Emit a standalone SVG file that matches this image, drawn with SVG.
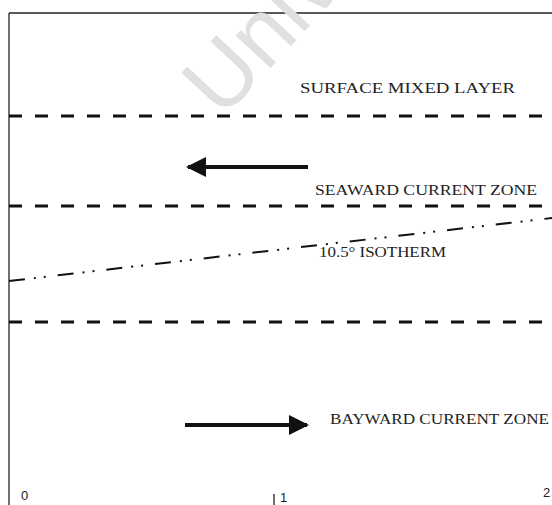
<svg xmlns="http://www.w3.org/2000/svg" width="552" height="505" viewBox="0 0 552 505">
<style>
.lbl{font-family:"Liberation Serif","Times New Roman",serif;font-size:15px;fill:#222;}
.num{font-family:"Liberation Sans",Arial,sans-serif;font-size:13px;fill:#222;}
.dash{stroke:#111;stroke-width:3;stroke-dasharray:13 13;fill:none;}
.frame{stroke:#222;stroke-width:1.3;fill:none;}
.arrow{stroke:#111;stroke-width:4;fill:none;}
</style>
<defs>
<marker id="ah" viewBox="0 0 10 10" refX="9" refY="5" markerWidth="5" markerHeight="5" orient="auto" markerUnits="strokeWidth">
<path d="M0,0 L10,5 L0,10 Z" fill="#111"/>
</marker>
</defs>
<rect width="552" height="505" fill="#fff"/>
<g id="frame">
<line class="frame" x1="9" y1="13" x2="552" y2="13"/>
<line class="frame" x1="9" y1="13" x2="9" y2="505"/>
</g>
<text x="222" y="120" transform="rotate(-47 222 120)" font-family="Liberation Sans, Arial, sans-serif" font-size="90" fill="#e0e0e0">Univ</text>
<g id="connectors">
<line class="dash" x1="9" y1="116" x2="552" y2="116"/>
<line class="dash" x1="9" y1="206" x2="552" y2="206"/>
<line class="dash" x1="9" y1="322" x2="552" y2="322"/>
<line x1="9" y1="281" x2="552" y2="218" stroke="#111" stroke-width="2" stroke-dasharray="16 9 2 8 2 12" fill="none"/>
<line class="arrow" x1="308" y1="167" x2="188" y2="167" marker-end="url(#ah)"/>
<line class="arrow" x1="185" y1="425" x2="307" y2="425" marker-end="url(#ah)"/>
<line class="frame" x1="274" y1="494" x2="274" y2="505"/>
</g>
<g id="surface"><text class="lbl" x="300" y="93" textLength="215" lengthAdjust="spacingAndGlyphs">SURFACE MIXED LAYER</text></g>
<g id="seaward"><text class="lbl" x="315" y="195" textLength="222" lengthAdjust="spacingAndGlyphs">SEAWARD CURRENT ZONE</text></g>
<g id="isotherm"><text class="lbl" x="319" y="257" textLength="127" lengthAdjust="spacingAndGlyphs">10.5° ISOTHERM</text></g>
<g id="bayward"><text class="lbl" x="330" y="424" textLength="219" lengthAdjust="spacingAndGlyphs">BAYWARD CURRENT ZONE</text></g>
<g id="axis">
<text class="num" x="21" y="500">0</text>
<text class="num" x="280" y="502">1</text>
<text class="num" x="543" y="497">2</text>
</g>
</svg>
